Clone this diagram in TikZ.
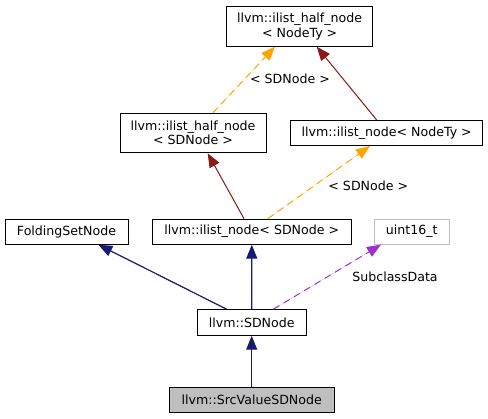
\documentclass[tikz,border=0pt]{standalone}
\usepackage{fontspec}
\setmainfont{DejaVu Sans}
\usetikzlibrary{arrows.meta}
\definecolor{navyedge}{HTML}{191970}
\definecolor{rededge}{HTML}{8B1A1A}
\definecolor{orangeedge}{HTML}{FFA500}
\definecolor{purpleedge}{HTML}{9A32CD}
\definecolor{grayfill}{HTML}{BFBFBF}
\tikzset{
  cls/.style={draw=black, line width=1pt, inner sep=0pt, align=center, font=\fontsize{12.6}{14.5}\selectfont},
  hl/.style={cls, fill=grayfill},
  ext/.style={cls, draw=grayfill},
  inh/.style={line width=1pt, -{Triangle[length=14pt,width=11pt]}},
  navyinh/.style={inh, line width=1.2pt, draw=navyedge, fill=navyedge},
  redinh/.style={inh, draw=rededge, fill=rededge},
  tmpl/.style={inh, draw=orangeedge, fill=orangeedge, dash pattern=on 7pt off 5pt},
  usage/.style={inh, draw=purpleedge, fill=purpleedge, dash pattern=on 7pt off 5pt},
  lbl/.style={font=\fontsize{12.6}{14.5}\selectfont, inner sep=0pt}
}
\begin{document}
\begin{tikzpicture}[x=1pt,y=-1pt]
\useasboundingbox (0,0) rectangle (488,419);
\node[cls, minimum width=146pt, minimum height=39.5pt] (hnT) at (299.7,26.4) {llvm::ilist\_half\_node\\\textless{} NodeTy \textgreater{}};
\node[cls, minimum width=146pt, minimum height=39.5pt] (hnS) at (193,133) {llvm::ilist\_half\_node\\\textless{} SDNode \textgreater{}};
\node[cls, minimum width=192pt, minimum height=25pt] (inT) at (386.7,133) {llvm::ilist\_node\textless{} NodeTy \textgreater{}};
\node[cls, minimum width=123pt, minimum height=25pt] (fsn) at (66.5,231.7) {FoldingSetNode};
\node[cls, minimum width=199pt, minimum height=25pt] (inS) at (251.8,231.7) {llvm::ilist\_node\textless{} SDNode \textgreater{}};
\node[ext, minimum width=75pt, minimum height=25pt] (u16) at (411.8,231.7) {uint16\_t};
\node[cls, minimum width=109pt, minimum height=25.5pt] (sd) at (251.7,322.5) {llvm::SDNode};
\node[hl, minimum width=165pt, minimum height=25.5pt] (src) at (251.7,400) {llvm::SrcValueSDNode};

\draw[tmpl] ([xshift=20pt]hnS.north) -- ([xshift=-24.7pt]hnT.south);
\node[lbl] (l1) at (290,78.7) {\textless{} SDNode \textgreater{}};
\draw[redinh] ([xshift=-10pt]inT.north) -- ([xshift=17pt]hnT.south);
\draw[redinh] ([xshift=-7.8pt]inS.north) -- ([xshift=14.7pt]hnS.south);
\draw[tmpl] ([xshift=16pt]inS.north) -- ([xshift=-16.7pt]inT.south);
\node[lbl] (l2) at (368.3,186) {\textless{} SDNode \textgreater{}};
\draw[navyinh] ([xshift=-25pt]sd.north) -- ([xshift=31.8pt]fsn.south);
\draw[navyinh] (sd.north) -- (inS.south);
\draw[usage] ([xshift=21.6pt]sd.north) -- ([xshift=-30.8pt]u16.south);
\node[lbl] (l3) at (395,276.7) {SubclassData};
\draw[navyinh] (src.north) -- (sd.south);
\end{tikzpicture}
\end{document}
